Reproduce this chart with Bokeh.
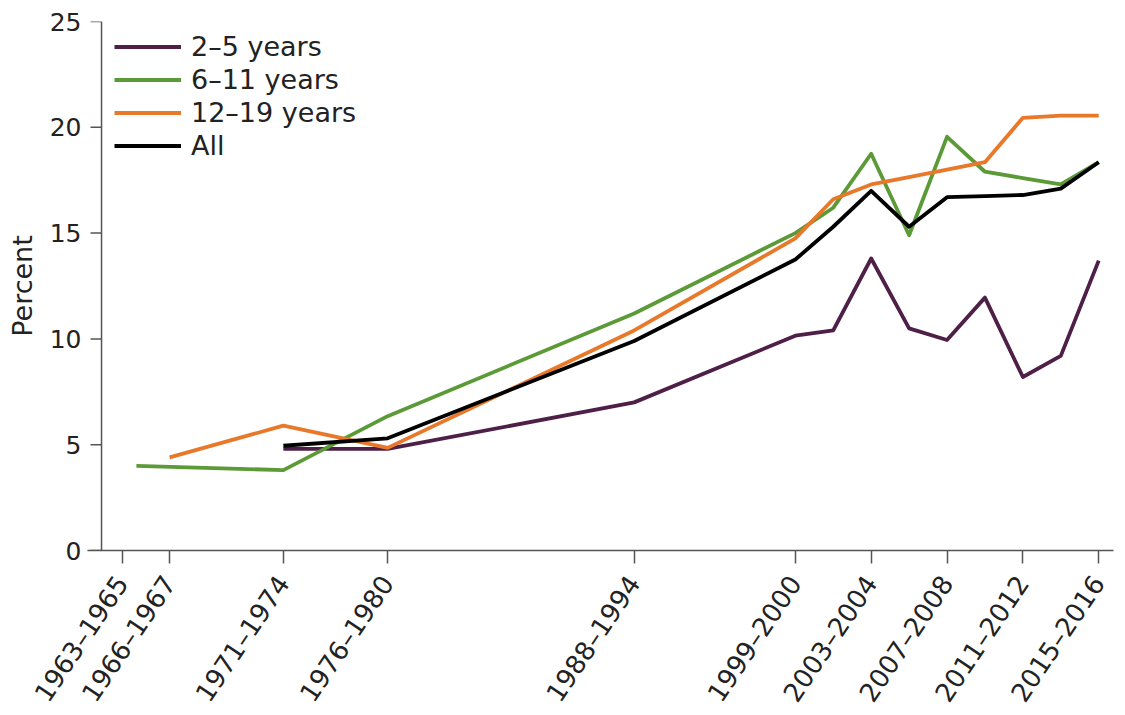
import math
from bokeh.plotting import figure
from bokeh.models import (Range1d, LinearAxis, FixedTicker, Legend, LegendItem)
from bokeh.embed import file_html
from bokeh.resources import INLINE

# ---- data ----
tick_x = [1964, 1966.5, 1972.5, 1978, 1991, 1999.5, 2003.5, 2007.5, 2011.5, 2015.5]
tick_labels = ["1963–1965", "1966–1967", "1971–1974", "1976–1980", "1988–1994",
               "1999–2000", "2003–2004", "2007–2008", "2011–2012", "2015–2016"]

x_2_5 = [1972.5, 1978, 1991, 1999.5, 2001.5, 2003.5, 2005.5, 2007.5, 2009.5, 2011.5, 2013.5, 2015.5]
y_2_5 = [4.8, 4.8, 7.0, 10.15, 10.4, 13.8, 10.5, 9.95, 11.95, 8.2, 9.2, 13.7]

x_6_11 = [1964.75, 1972.5, 1978, 1991, 1999.5, 2001.5, 2003.5, 2005.5, 2007.5, 2009.5, 2011.5, 2013.5, 2015.5]
y_6_11 = [4.0, 3.8, 6.35, 11.2, 15.0, 16.2, 18.75, 14.9, 19.55, 17.9, 17.6, 17.3, 18.35]

x_12_19 = [1966.5, 1972.5, 1978, 1991, 1999.5, 2001.5, 2003.5, 2005.5, 2007.5, 2009.5, 2011.5, 2013.5, 2015.5]
y_12_19 = [4.4, 5.9, 4.85, 10.4, 14.75, 16.6, 17.3, 17.65, 18.0, 18.35, 20.45, 20.55, 20.55]

x_all = [1972.5, 1978, 1991, 1999.5, 2001.5, 2003.5, 2005.5, 2007.5, 2009.5, 2011.5, 2013.5, 2015.5]
y_all = [4.95, 5.3, 9.9, 13.75, 15.3, 17.0, 15.3, 16.7, 16.75, 16.8, 17.1, 18.35]

y_ticks = [0, 5, 10, 15, 20, 25]

# ---- styling / layout ----
FONT = "DejaVu Sans"
TXT = "#222222"
AX = "#555555"
C_25 = "#4e1f47"
C_611 = "#5c9a38"
C_1219 = "#e8782a"
C_ALL = "#000000"

FW, FH = 1026, 529
X0, X1 = 1962.17, 2016.28
Y0, Y1 = 0, 25
YAXIS_AT = 1962.91          # x position where the y-axis rule is drawn
PX_PER_X = FW / (X1 - X0)
TICK_LEN = 11 / PX_PER_X

p = figure(frame_width=FW, frame_height=FH,
           x_range=Range1d(X0, X1), y_range=Range1d(Y0, Y1),
           x_axis_location=None, y_axis_location=None,
           output_backend="svg", toolbar_location=None,
           min_border_left=87, min_border_right=12, min_border_top=21,
           min_border_bottom=160)
p.outline_line_color = None
p.background_fill_color = "white"
p.border_fill_color = "white"
p.xgrid.visible = False
p.ygrid.visible = False

# y axis: labels from the axis, rule + ticks drawn at YAXIS_AT
yax = LinearAxis(ticker=FixedTicker(ticks=y_ticks), axis_label="Percent")
yax.axis_line_color = None
yax.major_tick_line_color = None
yax.major_tick_out = 0
yax.major_tick_in = 0
yax.minor_tick_out = 0
yax.minor_tick_in = 0
yax.major_label_standoff = 6
yax.major_label_text_font = FONT
yax.major_label_text_font_size = "25px"
yax.major_label_text_color = TXT
yax.axis_label_text_font = FONT
yax.axis_label_text_font_size = "27px"
yax.axis_label_text_font_style = "normal"
yax.axis_label_text_color = TXT
yax.axis_label_standoff = 9
p.add_layout(yax, "left")

p.segment(x0=[YAXIS_AT], y0=[Y0], x1=[YAXIS_AT], y1=[Y1],
          line_color=AX, line_width=1.5)
p.segment(x0=[YAXIS_AT - TICK_LEN] * len(y_ticks), y0=y_ticks,
          x1=[YAXIS_AT] * len(y_ticks), y1=y_ticks,
          line_color=AX, line_width=1.5)

# x axis
xax = LinearAxis(ticker=FixedTicker(ticks=tick_x),
                 major_label_overrides={t: l for t, l in zip(tick_x, tick_labels)})
xax.axis_line_color = AX
xax.axis_line_width = 1.5
xax.major_tick_line_color = AX
xax.major_tick_line_width = 1.5
xax.major_tick_out = 13
xax.major_tick_in = 0
xax.minor_tick_out = 0
xax.minor_tick_in = 0
xax.major_label_standoff = 15
xax.major_label_orientation = math.radians(56)
xax.major_label_text_font = FONT
xax.major_label_text_font_size = "26px"
xax.major_label_text_color = TXT
p.add_layout(xax, "below")

LW = 3.8
r25 = p.line(x_2_5, y_2_5, line_color=C_25, line_width=LW, line_join="round")
r611 = p.line(x_6_11, y_6_11, line_color=C_611, line_width=LW, line_join="round")
r1219 = p.line(x_12_19, y_12_19, line_color=C_1219, line_width=LW, line_join="round")
rall = p.line(x_all, y_all, line_color=C_ALL, line_width=LW, line_join="round")

legend = Legend(items=[LegendItem(label="2–5 years", renderers=[r25]),
                       LegendItem(label="6–11 years", renderers=[r611]),
                       LegendItem(label="12–19 years", renderers=[r1219]),
                       LegendItem(label="All", renderers=[rall])],
                location=(27, 388), margin=0, padding=5, spacing=0,
                glyph_width=67, glyph_height=33, label_height=33,
                label_standoff=10)
legend.label_text_font = FONT
legend.label_text_font_size = "27px"
legend.label_text_color = TXT
legend.background_fill_alpha = 0
legend.border_line_color = None
p.add_layout(legend)

open("out.html", "w").write(file_html(p, INLINE))
